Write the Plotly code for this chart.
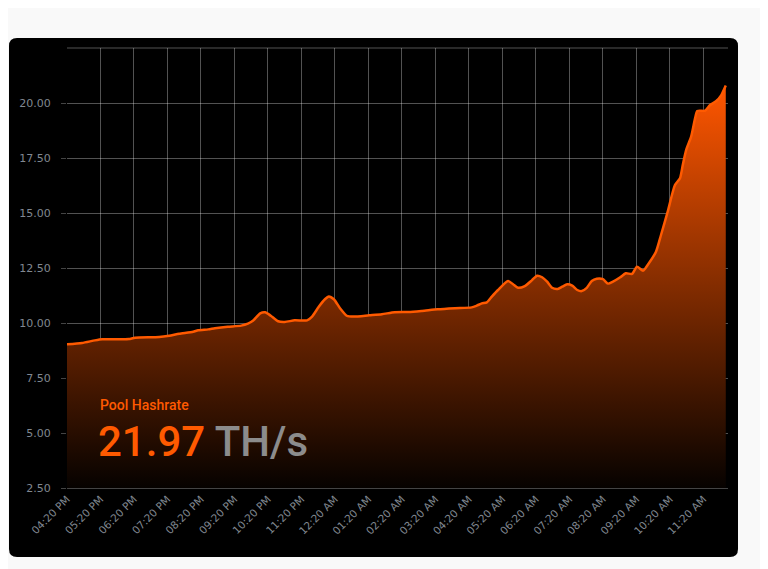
import plotly.graph_objects as go

# ---- data ----
day1_times = ["16:20", "16:47", "17:10", "17:23", "17:58", "18:11", "18:22", "19:05", "19:23", "19:41",
              "20:06", "20:15", "20:33", "20:45", "21:08", "21:32", "21:44", "21:53", "22:06", "22:15",
              "22:25", "22:38", "22:50", "23:08", "23:30", "23:39", "23:51"]
day1_values = [9.03, 9.09, 9.21, 9.26, 9.26, 9.27, 9.33, 9.36, 9.42, 9.51,
               9.60, 9.67, 9.71, 9.76, 9.83, 9.88, 9.97, 10.10, 10.44, 10.49,
               10.33, 10.08, 10.05, 10.12, 10.12, 10.29, 10.74]
day2_times = ["00:02", "00:09", "00:18", "00:29", "00:41", "00:54", "01:21", "01:44", "02:07", "02:32",
              "02:56", "03:24", "03:55", "04:25", "04:34", "04:43", "04:52", "05:01", "05:12", "05:30",
              "05:39", "05:48", "06:00", "06:13", "06:22", "06:31", "06:40", "06:49", "06:59", "07:07",
              "07:16", "07:25", "07:34", "07:42", "07:51", "08:00", "08:09", "08:20", "08:29", "08:38",
              "08:51", "09:01", "09:12", "09:21", "09:32", "09:41", "09:55", "10:04", "10:16", "10:29",
              "10:38", "10:43", "10:49", "10:58", "11:05", "11:09", "11:23", "11:32", "11:43", "11:52",
              "12:00"]
day2_values = [11.08, 11.21, 11.08, 10.67, 10.33, 10.29, 10.35, 10.40, 10.49, 10.50,
               10.55, 10.62, 10.67, 10.71, 10.79, 10.89, 10.94, 11.20, 11.50, 11.91,
               11.76, 11.60, 11.68, 11.95, 12.15, 12.08, 11.88, 11.60, 11.55, 11.65,
               11.76, 11.70, 11.50, 11.45, 11.60, 11.91, 12.01, 11.99, 11.79, 11.88,
               12.08, 12.26, 12.23, 12.56, 12.38, 12.67, 13.24, 14.00, 15.06, 16.27,
               16.58, 17.18, 17.86, 18.47, 19.30, 19.64, 19.65, 19.91, 20.09, 20.36,
               20.79]

y_ticks = [2.5, 5.0, 7.5, 10.0, 12.5, 15.0, 17.5, 20.0]
title_label = "Pool Hashrate"
current_value = "21.97"
current_unit = "TH/s"

times = ["2024-01-01 " + t for t in day1_times] + ["2024-01-02 " + t for t in day2_times]
values = day1_values + day2_values

ORANGE = "#ff5a00"
LABEL = "#808891"
GRID = "rgba(255,255,255,0.32)"

fig = go.Figure()
fig.add_trace(go.Scatter(
    x=times, y=values, mode="lines",
    line=dict(color=ORANGE, width=2.5, shape="spline", smoothing=0.6),
    fill="tozeroy",
    fillgradient=dict(type="vertical", start=2.5, stop=max(values),
                      colorscale=[[0, "rgb(6,2,0)"], [1, "rgb(255,86,0)"]]),
    hoverinfo="skip", showlegend=False,
))

# card geometry (paper units) -- plot area is 661 x 440 px at window (67,48)
W, H = 661.0, 440.0
x0, x1 = (9 - 67) / W, (738 - 67) / W
y0, y1 = (488 - 557) / H, (488 - 38) / H
rx, ry = 8 / W, 8 / H
card = (f"M {x0+rx} {y1} L {x1-rx} {y1} Q {x1} {y1} {x1} {y1-ry} "
        f"L {x1} {y0+ry} Q {x1} {y0} {x1-rx} {y0} L {x0+rx} {y0} Q {x0} {y0} {x0} {y0+ry} "
        f"L {x0} {y1-ry} Q {x0} {y1} {x0+rx} {y1} Z")

fig.update_layout(
    width=760, height=561,
    margin=dict(l=59, r=40, t=40, b=81),
    paper_bgcolor="#f9f9f9",
    plot_bgcolor="#000000",
    font=dict(family="DejaVu Sans, Verdana, sans-serif", size=10.5, color=LABEL),
    shapes=[
        dict(type="path", path=card, xref="paper", yref="paper", layer="below",
             fillcolor="#000000", line=dict(width=0)),
        dict(type="line", xref="paper", yref="paper", x0=0, x1=1, y0=1, y1=1,
             line=dict(color=GRID, width=1), layer="below"),
    ],
    xaxis=dict(
        type="date",
        range=["2024-01-01 16:20", "2024-01-02 12:04"],
        tick0="2024-01-01 16:20", dtick=3600000,
        tickformat="%I:%M %p", tickangle=-45,
        showgrid=True, gridcolor=GRID, gridwidth=1,
        showline=True, linecolor="#444444", linewidth=1,
        zeroline=False, ticks="",
        tickfont=dict(size=10.5, color=LABEL),
    ),
    yaxis=dict(
        range=[2.5, 22.5],
        tickvals=y_ticks, tickformat=".2f",
        showgrid=True, gridcolor=GRID, gridwidth=1,
        zeroline=False, showline=False,
        ticks="outside", ticklen=5, tickcolor="#444444",
        ticklabelstandoff=8,
        tickfont=dict(size=11, color=LABEL),
    ),
    annotations=[
        dict(text=title_label, xref="paper", yref="paper",
             x=(98 - 67) / W, y=(488 - 405) / H, xanchor="left", yanchor="middle",
             showarrow=False,
             font=dict(family="Roboto, sans-serif", size=14, color=ORANGE, weight=500)),
        dict(text=f"<span style='color:{ORANGE}'>{current_value}</span> "
                  f"<span style='color:#8c8c8c'>{current_unit}</span>",
             xref="paper", yref="paper",
             x=(96 - 67) / W, y=(488 - 441) / H, xanchor="left", yanchor="middle",
             showarrow=False,
             font=dict(family="Roboto, sans-serif", size=42, color=ORANGE, weight=500)),
    ],
)

fig.write_html("out.html", config={"displayModeBar": False})
